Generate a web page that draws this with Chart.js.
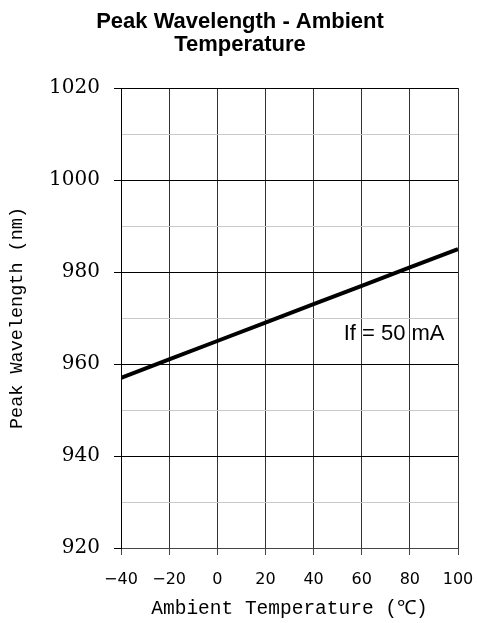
<!DOCTYPE html>
<html>
<head>
<meta charset="utf-8">
<script src="https://cdn.jsdelivr.net/npm/chart.js@4/dist/chart.umd.min.js"></script>
<style>
  html, body { margin: 0; padding: 0; background: #fff; }
  #wrap { width: 477px; height: 623px; }
</style>
</head>
<body>
<div id="wrap"><canvas id="c" width="477" height="623"></canvas></div>
<script>
// Data
const temps = [-40, -20, 0, 20, 40, 60, 80, 100];
const peakWavelength = [957, 961, 965, 969, 973, 977, 981, 985];
const xTickValues = [-40, -20, 0, 20, 40, 60, 80, 100];
const yTickValues = [920, 940, 960, 980, 1000, 1020];
const titleLines = ['Peak Wavelength - Ambient', 'Temperature'];
const xTitle = 'Ambient Temperature (℃)';
const yTitle = 'Peak Wavelength (nm)';
const seriesLabel = 'If = 50 mA';
const labelPos = { x: 52.5, y: 966.5 };

const points = temps.map((t, i) => ({ x: t, y: peakWavelength[i] }));

const titlePlugin = {
  id: 'titleAndNote',
  afterDraw(chart) {
    const ctx = chart.ctx;
    ctx.save();
    ctx.fillStyle = '#000';
    ctx.textAlign = 'center';
    ctx.textBaseline = 'middle';
    ctx.font = 'bold 22px "Liberation Sans", Arial, sans-serif';
    titleLines.forEach((line, i) => ctx.fillText(line, 240, 22 + i * 23));
    const xs = chart.scales.x, ys = chart.scales.y;
    ctx.font = '22px "Liberation Sans", Arial, sans-serif';
    ctx.textAlign = 'left';
    ctx.fillText(seriesLabel, xs.getPixelForValue(labelPos.x), ys.getPixelForValue(labelPos.y));
    ctx.restore();
  }
};

new Chart(document.getElementById('c'), {
  type: 'line',
  data: {
    datasets: [{
      label: seriesLabel,
      data: points,
      borderColor: '#000',
      borderWidth: 4,
      pointRadius: 0,
      tension: 0,
      fill: false
    }]
  },
  options: {
    responsive: false,
    animation: false,
    layout: { padding: { top: 88, right: 19, left: 0, bottom: 0 } },
    plugins: { legend: { display: false }, title: { display: false }, tooltip: { enabled: false } },
    scales: {
      x: {
        type: 'linear',
        min: -40, max: 100,
        afterBuildTicks(scale) { scale.ticks = xTickValues.map(v => ({ value: v })); },
        afterFit(scale) { scale.height = 75; scale.paddingLeft = 0; scale.paddingRight = 0; },
        ticks: {
          color: '#000',
          padding: 15,
          maxRotation: 0,
          font: { family: '"DejaVu Sans", sans-serif', size: 16 },
          callback: v => String(v).replace('-', '−')
        },
        grid: { color: '#333', lineWidth: 1, tickLength: 7, tickColor: '#444' },
        border: { display: true, color: '#444' },
        title: {
          display: true, text: xTitle, color: '#000',
          font: { family: '"Liberation Mono", monospace', size: 19.5 },
          padding: { top: 0, bottom: 2 }
        }
      },
      y: {
        min: 920, max: 1020,
        afterBuildTicks(scale) {
          const t = [];
          for (let i = 0; i < yTickValues.length; i++) {
            t.push({ value: yTickValues[i] });
            if (i < yTickValues.length - 1) t.push({ value: (yTickValues[i] + yTickValues[i + 1]) / 2 });
          }
          scale.ticks = t;
        },
        afterFit(scale) { scale.width = 121; },
        ticks: {
          color: '#000',
          padding: 14,
          font: { family: '"DejaVu Serif", serif', size: 20 },
          callback: v => (yTickValues.includes(v) ? String(v) : '')
        },
        grid: {
          color: c => (yTickValues.includes(c.tick.value) ? '#000' : '#c8c8c8'),
          tickColor: c => (yTickValues.includes(c.tick.value) ? '#000' : 'rgba(0,0,0,0)'),
          lineWidth: 1, tickLength: 7
        },
        border: { display: true, color: '#000' },
        title: {
          display: true, text: yTitle, color: '#000',
          font: { family: '"Liberation Mono", monospace', size: 18.5 },
          padding: { top: 6, bottom: 0 }
        }
      }
    }
  },
  plugins: [titlePlugin]
});
</script>
</body>
</html>
